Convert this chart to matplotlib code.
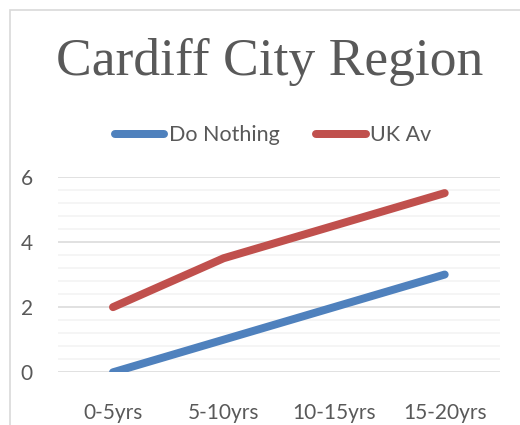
import matplotlib.pyplot as plt
from matplotlib.ticker import MultipleLocator
from matplotlib.patches import Rectangle

categorias = ['0-5yrs', '5-10yrs', '10-15yrs', '15-20yrs']
do_nothing = [0, 1, 2, 3]
uk_av = [2, 3.5, 4.5, 5.5]
y_ticks = [0, 2, 4, 6]

gris = '#595959'
fuente = ['Lato', 'DejaVu Sans']

fig = plt.figure(figsize=(5.2, 4.25), dpi=100)
# marco del grafico
fig.patches.append(Rectangle((10 / 520, -0.1), 1.2, (425 - 9.5) / 425 + 0.1,
                             transform=fig.transFigure, fill=False,
                             edgecolor='#D9D9D9', linewidth=1.2))

ax = fig.add_axes([0.111, 0.124, 0.8505, 0.46])
x = range(len(categorias))
ax.plot(x, do_nothing, color='#4F81BD', linewidth=5.75, solid_capstyle='round', label='Do Nothing')
ax.plot(x, uk_av, color='#C0504D', linewidth=5.75, solid_capstyle='round', label='UK Av')

ax.set_xlim(-0.5, 3.5)
ax.set_ylim(0, 6)
ax.set_yticks(y_ticks)
ax.yaxis.set_minor_locator(MultipleLocator(0.4))
ax.set_xticks(list(x))
ax.set_xticklabels(categorias)
ax.grid(axis='y', which='major', color='#D9D9D9', linewidth=1.1)
ax.grid(axis='y', which='minor', color='#F2F2F2', linewidth=1.1)
ax.set_axisbelow(True)
for s in ax.spines.values():
    s.set_visible(False)
ax.tick_params(axis='both', which='both', length=0, colors=gris, labelsize=15)
ax.tick_params(axis='y', pad=18)
ax.tick_params(axis='x', pad=22)
for lbl in ax.get_xticklabels() + ax.get_yticklabels():
    lbl.set_family(fuente)

fig.text(0.518, 1 - 75 / 425, 'Cardiff City Region', ha='center', va='baseline',
         fontsize=38.5, color=gris, family=['Liberation Serif'])

leg = fig.legend(loc='center', bbox_to_anchor=(0.525, 0.682), ncol=2, frameon=False,
                 prop={'family': fuente, 'size': 15.5}, handlelength=2.3,
                 handletextpad=0.2, columnspacing=1.7)
for t in leg.get_texts():
    t.set_color(gris)

fig.savefig('out.png', dpi=100)
